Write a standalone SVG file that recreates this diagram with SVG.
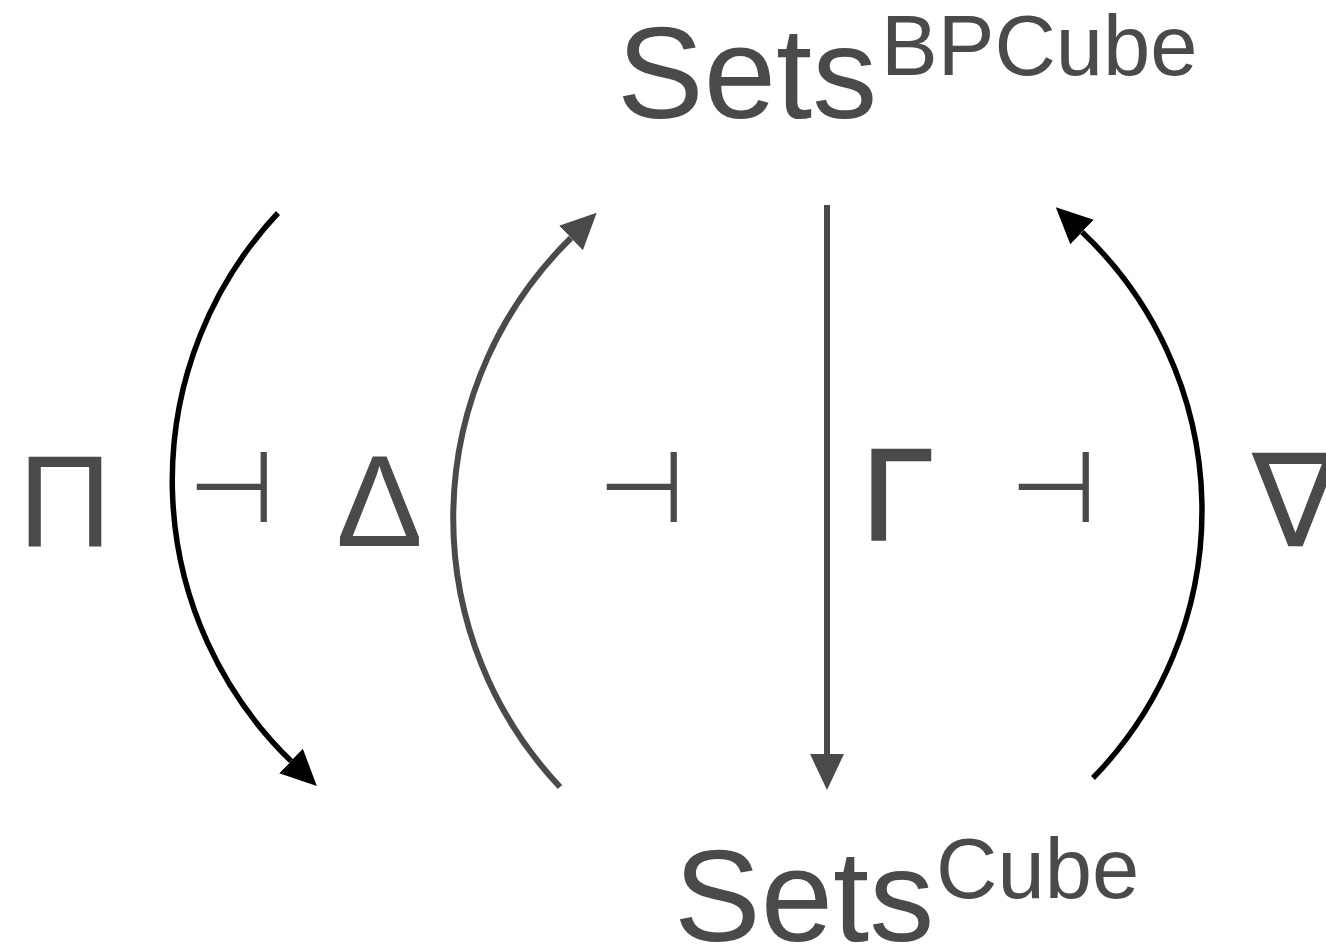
<svg xmlns="http://www.w3.org/2000/svg" width="1326" height="949" viewBox="0 0 1326 949">
<style>
.t{font-family:"Liberation Sans","DejaVu Sans",sans-serif;fill:#4a4a48}
.big{font-size:130px}
.sup{font-size:85px}
.adj{font-family:"DejaVu Sans",sans-serif;font-size:100px;fill:#4a4a48}
.blk{fill:none;stroke:#000;stroke-width:5.5}
.gry{fill:none;stroke:#4a4a48;stroke-width:6}
</style>
<defs>
<marker id="ab" markerUnits="userSpaceOnUse" viewBox="0 0 36 34" refX="0" refY="17" markerWidth="36" markerHeight="34" orient="auto">
<path d="M0,0 L36,17 L0,34 z" fill="#000"/>
</marker>
<marker id="ag" markerUnits="userSpaceOnUse" viewBox="0 0 36 34" refX="0" refY="17" markerWidth="36" markerHeight="34" orient="auto">
<path d="M0,0 L36,17 L0,34 z" fill="#4a4a48"/>
</marker>
</defs>
<g id="setsBPCube">
<text class="t big" x="617" y="118">Sets</text>
<text class="t sup" x="881" y="75">BPCube</text>
</g>
<g id="setsCube">
<text class="t big" x="674" y="941">Sets</text>
<text class="t sup" x="936" y="898">Cube</text>
</g>
<g id="labels">
<text class="t big" x="18" y="546">Π</text>
<text class="adj" x="188" y="522">⊣</text>
<text class="t big" x="336" y="546">Δ</text>
<text class="adj" x="598" y="522">⊣</text>
<text class="t big" x="862" y="540" stroke="#4a4a48" stroke-width="2.5">Γ</text>
<text class="adj" x="1010" y="522">⊣</text>
<text class="t big" x="1252" y="546">∇</text>
</g>
<g id="connectors">
<path class="blk" d="M278,213 A391,391 0 0 0 291,761" marker-end="url(#ab)"/>
<path class="gry" d="M560,787 A392,392 0 0 1 571,238" marker-end="url(#ag)"/>
<path class="gry" d="M827,205 L827,754" marker-end="url(#ag)"/>
<path class="blk" d="M1093,778 A383,383 0 0 0 1082,232" marker-end="url(#ab)"/>
</g>
</svg>
